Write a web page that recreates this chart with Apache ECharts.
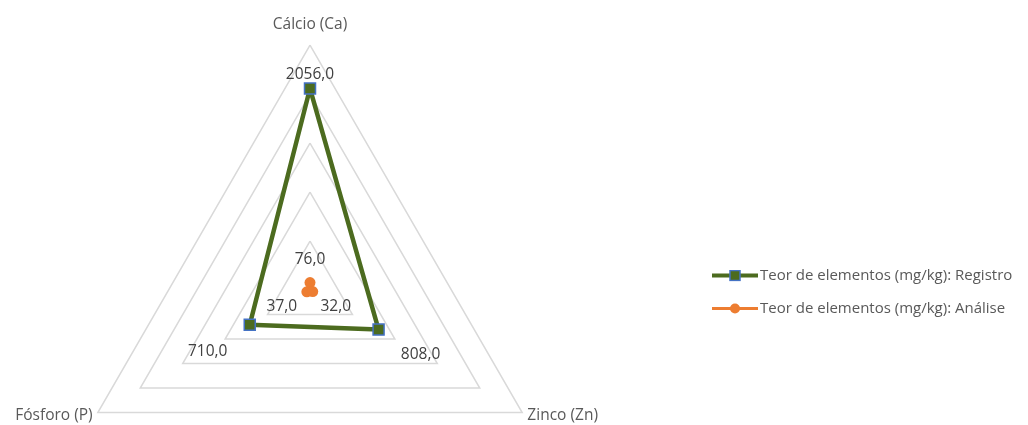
<!DOCTYPE html>
<html>
<head>
<meta charset="utf-8">
<script src="https://cdn.jsdelivr.net/npm/echarts@6/dist/echarts.min.js"></script>
<style>
  html, body { margin: 0; padding: 0; background: #fff; }
  #chart { width: 1028px; height: 425px; }
</style>
</head>
<body>
<div id="chart"></div>
<script>
// indicators in ECharts order (counter-clockwise from top)
const elementos = ['Cálcio (Ca)', 'Fósforo (P)', 'Zinco (Zn)'];
const maxValor = 2500;
const registro = [2056, 710, 808];
const analise = [76, 37, 32];
const nomesSeries = ['Teor de elementos (mg/kg): Registro', 'Teor de elementos (mg/kg): Análise'];

const verde = '#4c6b1f';
const azul = '#4472c4';
const laranja = '#ed7d31';
const fonte = '"Open Sans", "Liberation Sans", sans-serif';

const fmt = (v) => v.toFixed(1).replace('.', ',');
const richBase = { fontSize: 15.5, color: '#404040', fontFamily: fonte };

// legend icons: line with marker, as small inline svg
const svgIcon = (body) => 'image://data:image/svg+xml;charset=utf-8,' + encodeURIComponent(
    '<svg xmlns="http://www.w3.org/2000/svg" width="46" height="12" viewBox="0 0 46 12">' + body + '</svg>');
const iconRegistro = svgIcon(
    '<line x1="0" y1="6" x2="46" y2="6" stroke="' + verde + '" stroke-width="4"/>' +
    '<rect x="18" y="1" width="10" height="10" fill="' + verde + '" stroke="' + azul + '" stroke-width="1.5"/>');
const iconAnalise = svgIcon(
    '<line x1="0" y1="6" x2="46" y2="6" stroke="' + laranja + '" stroke-width="3"/>' +
    '<circle cx="23" cy="6" r="5" fill="' + laranja + '"/>');

var myChart = echarts.init(document.getElementById('chart'));

const option = {
    animation: false,
    legend: {
        orient: 'vertical',
        left: 707,
        top: 263,
        itemWidth: 46,
        itemHeight: 12,
        itemGap: 18,
        textStyle: { fontSize: 15, color: '#595959', fontFamily: fonte, padding: [0, 0, 0, -3] },
        data: [
            { name: nomesSeries[0], icon: iconRegistro },
            { name: nomesSeries[1], icon: iconAnalise }
        ]
    },
    radar: {
        center: [310, 290],
        radius: 245,
        startAngle: 90,
        shape: 'polygon',
        splitNumber: 5,
        indicator: elementos.map(n => ({ name: n, max: maxValor, min: 0 })),
        axisName: {
            color: '#595959',
            fontSize: 15.5,
            fontFamily: fonte,
            formatter: (n) => (n === elementos[0] ? '{t|' + n + '}' : n),
            rich: { t: { color: '#595959', fontSize: 15.5, fontFamily: fonte, padding: [0, 0, 6, 0] } }
        },
        nameGap: 6,
        axisLine: { show: false },
        axisTick: { show: false },
        axisLabel: { show: false },
        splitArea: { show: false },
        splitLine: { lineStyle: { color: '#d9d9d9', width: 1.5 } }
    },
    series: [
        {
            name: nomesSeries[0],
            type: 'radar',
            symbol: 'rect',
            symbolSize: 11,
            lineStyle: { color: verde, width: 4.5 },
            itemStyle: { color: verde, borderColor: azul, borderWidth: 1.5 },
            label: {
                show: true,
                position: 'inside',
                formatter: (p) => ['{t|', '{l|', '{r|'][p.dimensionIndex] + fmt(p.value) + '}',
                rich: {
                    t: Object.assign({ padding: [0, 0, 28, 0] }, richBase),
                    l: Object.assign({ padding: [54, 84, 0, 0] }, richBase),
                    r: Object.assign({ padding: [50, 0, 0, 84] }, richBase)
                }
            },
            data: [{ value: registro, name: nomesSeries[0] }]
        },
        {
            name: nomesSeries[1],
            type: 'radar',
            symbol: 'circle',
            symbolSize: 11,
            lineStyle: { color: laranja, width: 2.5 },
            itemStyle: { color: laranja },
            label: {
                show: true,
                position: 'inside',
                formatter: (p) => ['{t|', '{l|', '{r|'][p.dimensionIndex] + fmt(p.value) + '}',
                rich: {
                    t: Object.assign({ padding: [0, 0, 46, 0] }, richBase),
                    l: Object.assign({ padding: [30, 50, 0, 0] }, richBase),
                    r: Object.assign({ padding: [30, 0, 0, 46] }, richBase)
                }
            },
            data: [{ value: analise, name: nomesSeries[1] }]
        }
    ]
};

myChart.setOption(option);
</script>
</body>
</html>
